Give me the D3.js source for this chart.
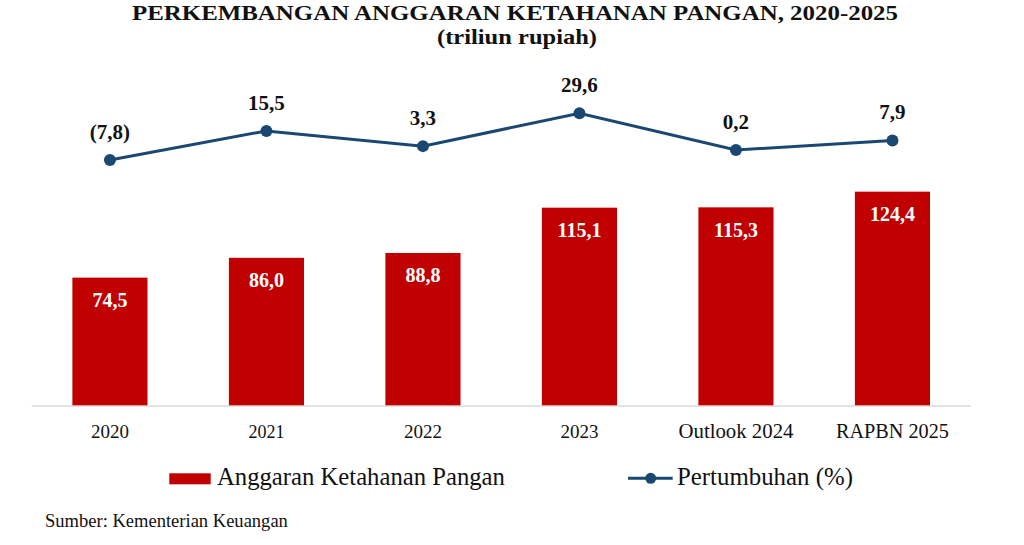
<!DOCTYPE html>
<html><head><meta charset="utf-8">
<script src="https://cdn.jsdelivr.net/npm/d3@7"></script>
<style>
html,body{margin:0;padding:0;background:#fff;}
svg{display:block;}
svg text{font-family:"Liberation Serif","DejaVu Serif",serif;}
</style></head>
<body><svg id="c" width="1024" height="545"></svg>
<script>
const categories = ["2020","2021","2022","2023","Outlook 2024","RAPBN 2025"];
const budget = [74.5, 86.0, 88.8, 115.1, 115.3, 124.4];
const growth = [-7.8, 15.5, 3.3, 29.6, 0.2, 7.9];
const budgetLabels = ["74,5","86,0","88,8","115,1","115,3","124,4"];
const growthLabels = ["(7,8)","15,5","3,3","29,6","0,2","7,9"];
const titleText = "PERKEMBANGAN ANGGARAN KETAHANAN PANGAN, 2020-2025";
const subtitleText = "(triliun rupiah)";
const legendLabels = ["Anggaran Ketahanan Pangan","Pertumbuhan (%)"];
const sourceText = "Sumber: Kementerian Keuangan";

const RED = "#C00000", NAVY = "#1B4872", INK = "#111";
const FONT = "Liberation Serif, DejaVu Serif, serif";
const svg = d3.select("#c");

function fit(sel, w){
  const n = sel.node(); const fs = parseFloat(sel.attr("font-size"));
  const m = n.getComputedTextLength();
  if (m > 0) sel.attr("font-size", (fs * w / m).toFixed(2));
  return sel;
}

const x = d3.scaleBand().domain(categories).range([31.7, 970.7]).paddingInner(0.52).paddingOuter(0.26);
const yBar = d3.scaleLinear().domain([0, 140]).range([406, 406 - 1.723*140]);
const yLine = d3.scaleLinear().domain([-10, 40]).range([150.25 + 1.248*10, 150.25 - 1.248*40]);

// title
svg.append("text").attr("x", 515).attr("y", 20).attr("text-anchor","middle")
  .attr("font-family", FONT).attr("font-size", 22).attr("font-weight","bold").attr("fill", INK)
  .attr("textLength", 766).attr("lengthAdjust","spacingAndGlyphs").text(titleText);
svg.append("text").attr("x", 517).attr("y", 44).attr("text-anchor","middle")
  .attr("font-family", FONT).attr("font-size", 21).attr("font-weight","bold").attr("fill", INK)
  .attr("textLength", 160).attr("lengthAdjust","spacingAndGlyphs").text(subtitleText);

// bars
const bars = svg.append("g");
bars.selectAll("rect").data(categories).join("rect")
  .attr("x", d => x(d)).attr("width", x.bandwidth())
  .attr("y", (d,i) => yBar(budget[i])).attr("height", (d,i) => yBar(0) - yBar(budget[i]))
  .attr("fill", RED);
bars.selectAll("text").data(categories).join("text")
  .attr("x", d => x(d) + x.bandwidth()/2).attr("y", (d,i) => yBar(budget[i]) + 29.5)
  .attr("text-anchor","middle").attr("font-family", FONT).attr("font-size", 20).attr("font-weight","bold")
  .attr("fill","#fff").text((d,i) => budgetLabels[i]);

// axis
const axis = svg.append("g").attr("transform", "translate(0,406)")
  .call(d3.axisBottom(x).tickSize(0).tickPadding(0));
axis.attr("font-family", FONT);
axis.select(".domain").attr("stroke", "#D9D9D9").attr("stroke-width", 1.5)
  .attr("d", "M31.7,0H970.7");
axis.selectAll(".tick text").attr("dy", null).attr("y", 32).attr("font-size", 19)
  .attr("font-family", FONT).attr("fill", INK);
axis.selectAll(".tick text").each(function(d){
  const t = d3.select(this);
  const w = {"2020":38,"2021":36,"2022":38,"2023":38,"Outlook 2024":115,"RAPBN 2025":113}[d];
  fit(t, w);
});

// line
const cx = d => x(d) + x.bandwidth()/2;
const line = d3.line().x((d,i) => cx(categories[i])).y(d => yLine(d));
svg.append("path").datum(growth).attr("d", line).attr("fill","none")
  .attr("stroke", NAVY).attr("stroke-width", 3);
svg.append("g").selectAll("circle").data(growth).join("circle")
  .attr("cx", (d,i) => cx(categories[i])).attr("cy", d => yLine(d)).attr("r", 6).attr("fill", NAVY);
svg.append("g").selectAll("text").data(growth).join("text")
  .attr("x", (d,i) => cx(categories[i])).attr("y", d => yLine(d) - 21)
  .attr("text-anchor","middle").attr("font-family", FONT).attr("font-size", 21).attr("font-weight","bold")
  .attr("fill", INK).text((d,i) => growthLabels[i]);

// legend
const lg = svg.append("g");
lg.append("rect").attr("x", 169.3).attr("y", 473.3).attr("width", 41.4).attr("height", 11).attr("fill", RED);
fit(lg.append("text").attr("x", 217).attr("y", 485).attr("font-family", FONT).attr("font-size", 21).attr("fill", INK).text(legendLabels[0]), 288);
lg.append("line").attr("x1", 628).attr("x2", 672.7).attr("y1", 478.3).attr("y2", 478.3)
  .attr("stroke", NAVY).attr("stroke-width", 3);
lg.append("circle").attr("cx", 650.7).attr("cy", 478.3).attr("r", 5.5).attr("fill", NAVY);
fit(lg.append("text").attr("x", 677).attr("y", 485).attr("font-family", FONT).attr("font-size", 21).attr("fill", INK).text(legendLabels[1]), 176);

// source
fit(svg.append("text").attr("x", 45).attr("y", 526.5).attr("font-family", FONT).attr("font-size", 15).attr("fill", INK).text(sourceText), 243);
</script></body></html>
